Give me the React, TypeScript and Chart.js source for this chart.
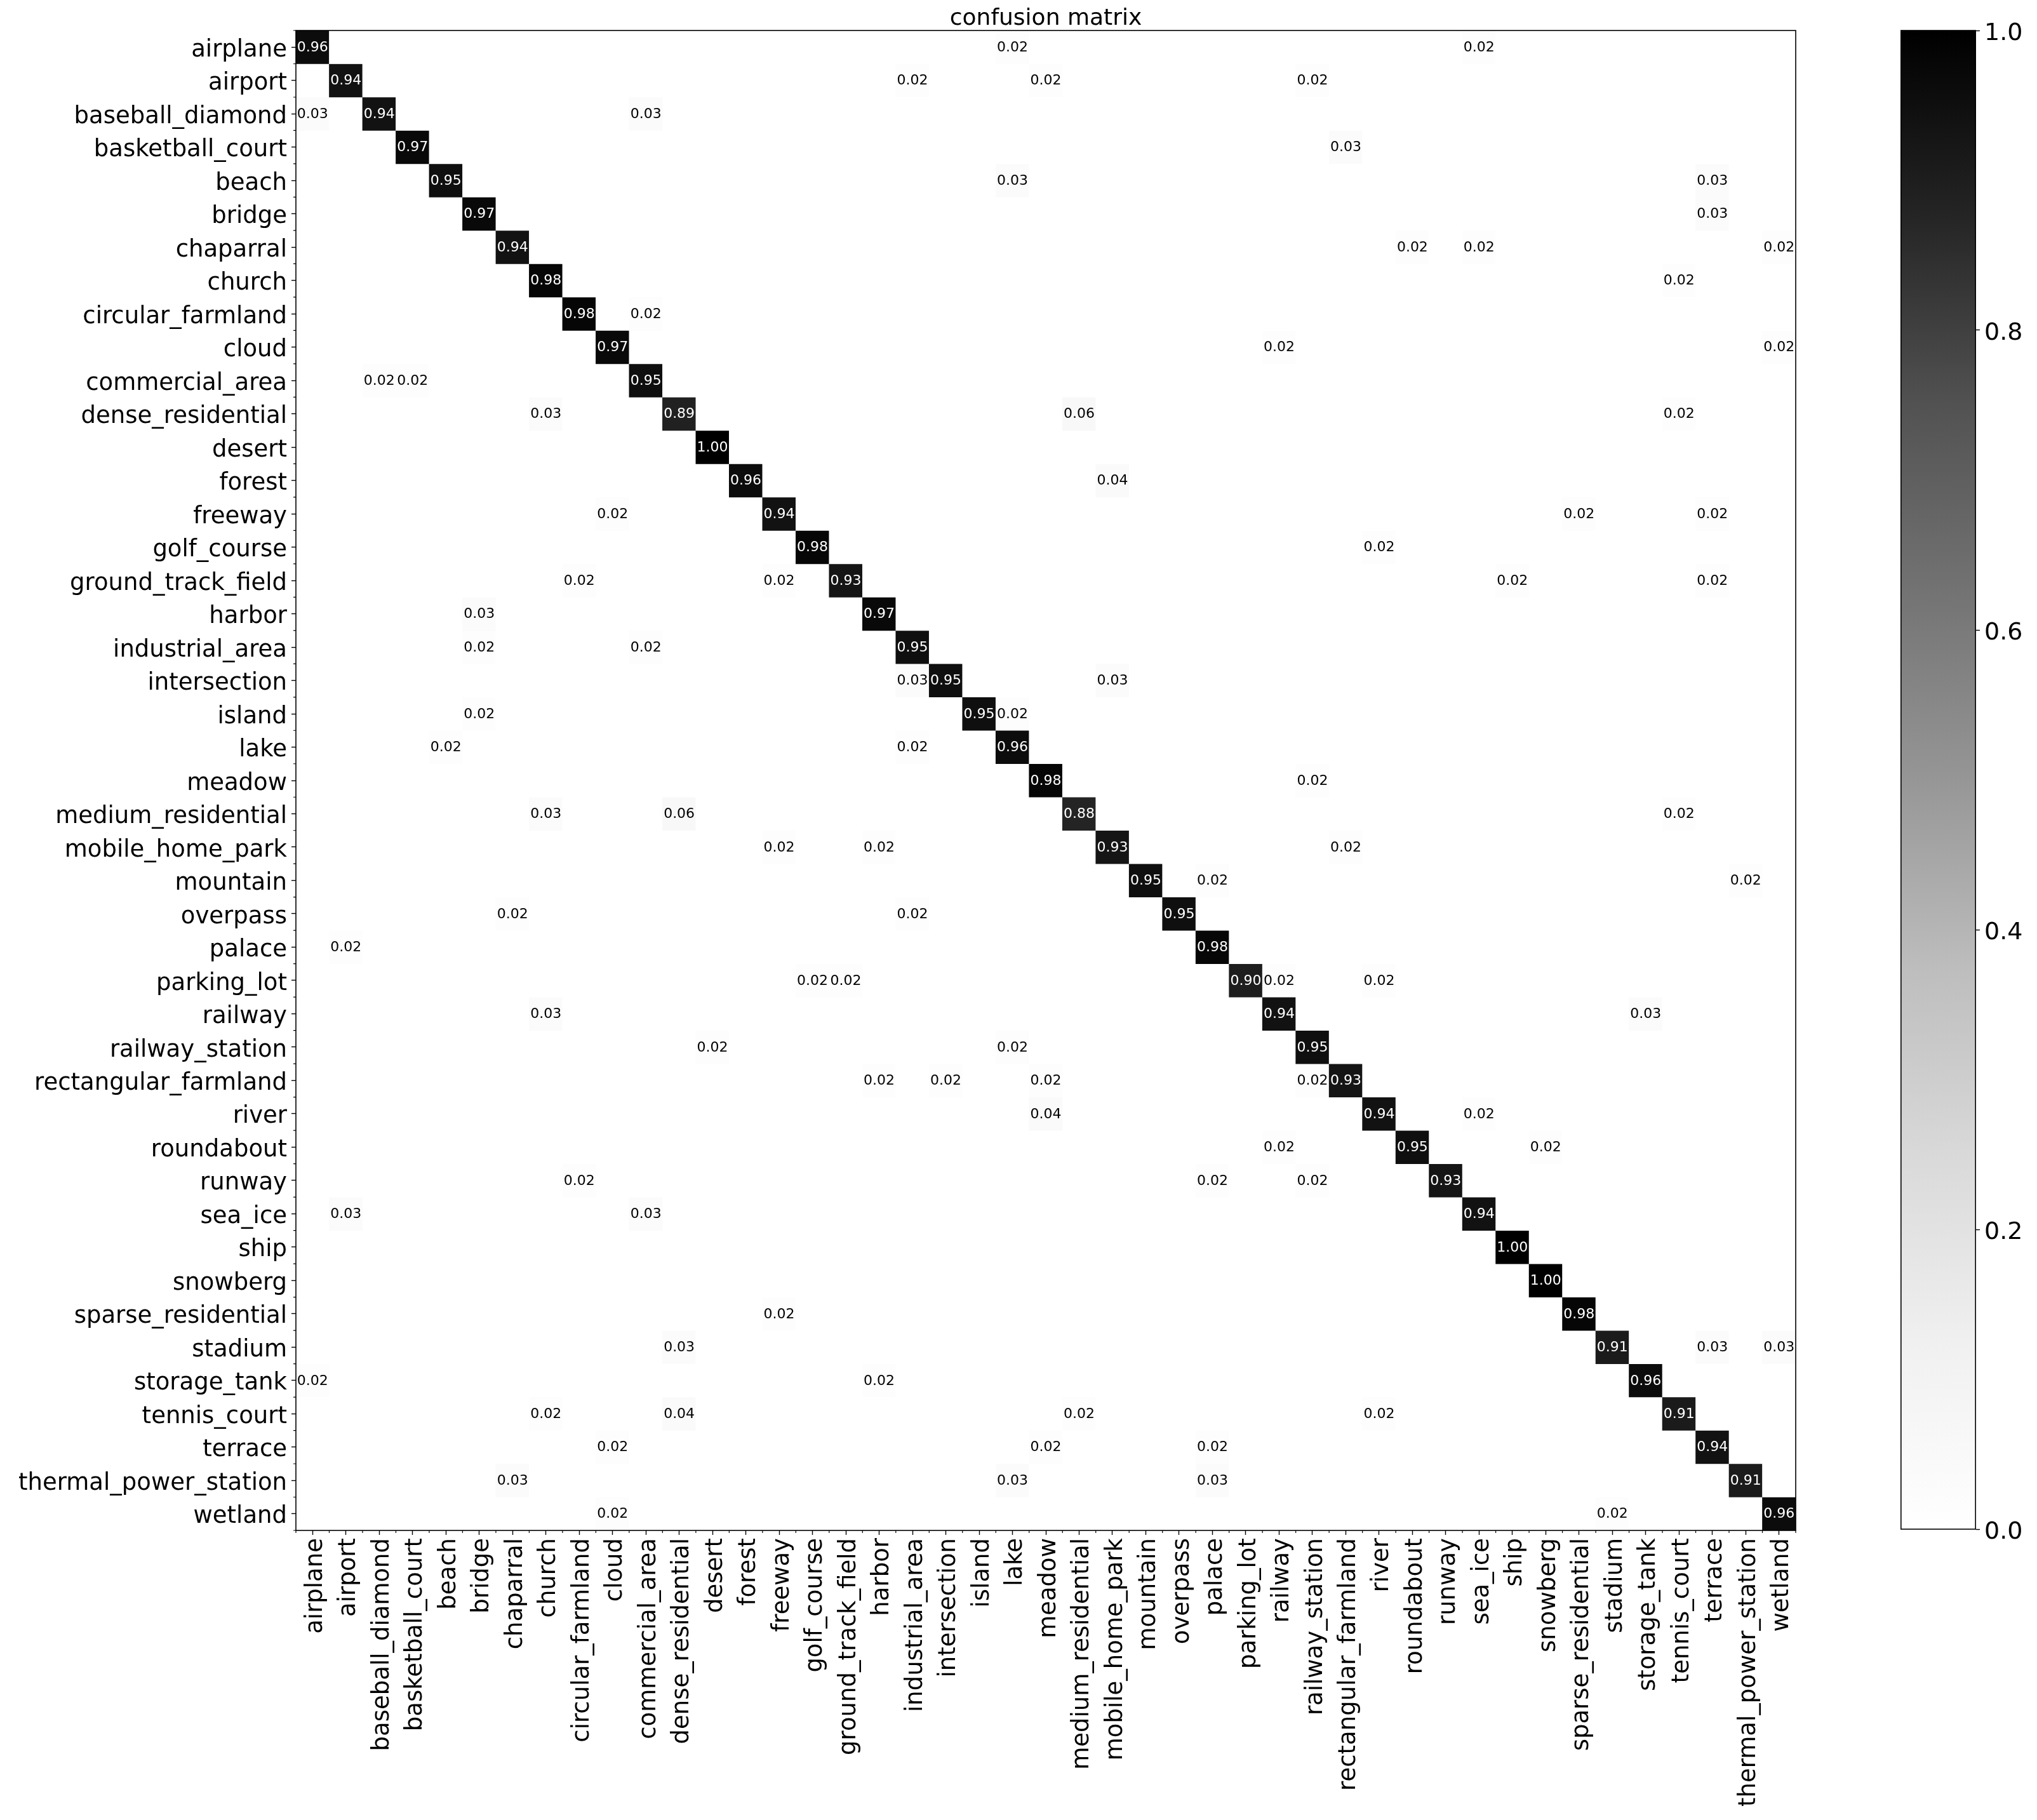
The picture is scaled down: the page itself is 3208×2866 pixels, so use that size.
import React, { useEffect, useRef } from "react";
import { Chart, registerables } from "chart.js";

Chart.register(...registerables);

// ---------------- data ----------------
const categories = [
  "airplane", "airport", "baseball_diamond", "basketball_court", "beach", "bridge",
  "chaparral", "church", "circular_farmland", "cloud", "commercial_area",
  "dense_residential", "desert", "forest", "freeway", "golf_course",
  "ground_track_field", "harbor", "industrial_area", "intersection", "island",
  "lake", "meadow", "medium_residential", "mobile_home_park", "mountain",
  "overpass", "palace", "parking_lot", "railway", "railway_station",
  "rectangular_farmland", "river", "roundabout", "runway", "sea_ice", "ship",
  "snowberg", "sparse_residential", "stadium", "storage_tank", "tennis_court",
  "terrace", "thermal_power_station", "wetland",
];

const diagonal = [
  0.96, 0.94, 0.94, 0.97, 0.95, 0.97, 0.94, 0.98, 0.98, 0.97,
  0.95, 0.89, 1.0, 0.96, 0.94, 0.98, 0.93, 0.97, 0.95, 0.95,
  0.95, 0.96, 0.98, 0.88, 0.93, 0.95, 0.95, 0.98, 0.9, 0.94,
  0.95, 0.93, 0.94, 0.95, 0.93, 0.94, 1.0, 1.0, 0.98, 0.91,
  0.96, 0.91, 0.94, 0.91, 0.96,
];

// [row (true class), column (predicted class), value]
const offDiagonal: [number, number, number][] = [
  [0, 21, 0.02], [0, 35, 0.02],
  [1, 18, 0.02], [1, 22, 0.02], [1, 30, 0.02],
  [2, 0, 0.03], [2, 10, 0.03],
  [3, 31, 0.03],
  [4, 21, 0.03], [4, 42, 0.03],
  [5, 42, 0.03],
  [6, 33, 0.02], [6, 35, 0.02], [6, 44, 0.02],
  [7, 41, 0.02],
  [8, 10, 0.02],
  [9, 29, 0.02], [9, 44, 0.02],
  [10, 2, 0.02], [10, 3, 0.02],
  [11, 7, 0.03], [11, 23, 0.06], [11, 41, 0.02],
  [13, 24, 0.04],
  [14, 9, 0.02], [14, 38, 0.02], [14, 42, 0.02],
  [15, 32, 0.02],
  [16, 8, 0.02], [16, 14, 0.02], [16, 36, 0.02], [16, 42, 0.02],
  [17, 5, 0.03],
  [18, 5, 0.02], [18, 10, 0.02],
  [19, 18, 0.03], [19, 24, 0.03],
  [20, 5, 0.02], [20, 21, 0.02],
  [21, 4, 0.02], [21, 18, 0.02],
  [22, 30, 0.02],
  [23, 7, 0.03], [23, 11, 0.06], [23, 41, 0.02],
  [24, 14, 0.02], [24, 17, 0.02], [24, 31, 0.02],
  [25, 27, 0.02], [25, 43, 0.02],
  [26, 6, 0.02], [26, 18, 0.02],
  [27, 1, 0.02],
  [28, 15, 0.02], [28, 16, 0.02], [28, 29, 0.02], [28, 32, 0.02],
  [29, 7, 0.03], [29, 40, 0.03],
  [30, 12, 0.02], [30, 21, 0.02],
  [31, 17, 0.02], [31, 19, 0.02], [31, 22, 0.02], [31, 30, 0.02],
  [32, 22, 0.04], [32, 35, 0.02],
  [33, 29, 0.02], [33, 37, 0.02],
  [34, 8, 0.02], [34, 27, 0.02], [34, 30, 0.02],
  [35, 1, 0.03], [35, 10, 0.03],
  [38, 14, 0.02],
  [39, 11, 0.03], [39, 42, 0.03], [39, 44, 0.03],
  [40, 0, 0.02], [40, 17, 0.02],
  [41, 7, 0.02], [41, 11, 0.04], [41, 23, 0.02], [41, 32, 0.02],
  [42, 9, 0.02], [42, 22, 0.02], [42, 27, 0.02],
  [43, 6, 0.03], [43, 21, 0.03], [43, 27, 0.03],
  [44, 9, 0.02], [44, 39, 0.02],
];

const colorbarTicks = [0, 0.2, 0.4, 0.6, 0.8, 1.0];
const titleText = "confusion matrix";

// ---------------- styling ----------------
const FONT = "'DejaVu Sans', 'Noto Sans', sans-serif";
// matplotlib "Greys" colormap stops (position, grey level)
const greysStops: [number, number][] = [
  [0, 255], [0.125, 240], [0.25, 217], [0.375, 189], [0.5, 150],
  [0.625, 115], [0.75, 82], [0.875, 37], [1, 0],
];

function greys(v: number): string {
  const t = Math.max(0, Math.min(1, v));
  for (let i = 1; i < greysStops.length; i++) {
    const [p1, g1] = greysStops[i];
    const [p0, g0] = greysStops[i - 1];
    if (t <= p1) {
      const g = Math.round(g0 + ((t - p0) / (p1 - p0)) * (g1 - g0));
      return `rgb(${g},${g},${g})`;
    }
  }
  return "rgb(0,0,0)";
}

function buildMatrix(): number[][] {
  const n = categories.length;
  const m: number[][] = [];
  for (let r = 0; r < n; r++) {
    m.push(new Array(n).fill(0));
    m[r][r] = diagonal[r];
  }
  offDiagonal.forEach(([r, c, v]) => {
    m[r][c] = v;
  });
  return m;
}

export default function App() {
  const mainRef = useRef<HTMLCanvasElement | null>(null);
  const cbRef = useRef<HTMLCanvasElement | null>(null);

  useEffect(() => {
    const matrix = buildMatrix();
    const n = categories.length;

    const datasets = matrix.map((row, r) => ({
      label: categories[r],
      data: row.map(() => [r - 0.5, r + 0.5]),
      backgroundColor: row.map((v) => greys(v)),
      borderWidth: 0,
      barPercentage: 1,
      categoryPercentage: 1,
      grouped: false,
    }));

    const decor = {
      id: "matrixDecor",
      afterDatasetsDraw(chart: any) {
        const { ctx, scales } = chart;
        const xs = scales.x;
        const ys = scales.y;
        ctx.save();
        ctx.font = `22px ${FONT}`;
        ctx.textAlign = "center";
        ctx.textBaseline = "middle";
        for (let r = 0; r < n; r++) {
          for (let c = 0; c < n; c++) {
            const v = matrix[r][c];
            if (v <= 0) continue;
            ctx.fillStyle = v > 0.5 ? "#ffffff" : "#000000";
            ctx.fillText(v.toFixed(2), xs.getPixelForValue(c), ys.getPixelForValue(r) + 1);
          }
        }
        ctx.restore();
      },
      afterDraw(chart: any) {
        const { ctx, chartArea, scales } = chart;
        const xs = scales.x;
        const ys = scales.y;
        ctx.save();
        // minor ticks at cell boundaries
        ctx.strokeStyle = "#000";
        ctx.lineWidth = 1.2;
        const half = (xs.getPixelForValue(1) - xs.getPixelForValue(0)) / 2;
        ctx.beginPath();
        for (let i = 0; i <= n; i++) {
          const yp = ys.getPixelForValue(i - 0.5);
          ctx.moveTo(chartArea.left, yp);
          ctx.lineTo(chartArea.left - 4, yp);
          const xp = xs.getPixelForValue(Math.min(i, n - 1)) + (i === n ? half : -half);
          ctx.moveTo(xp, chartArea.bottom);
          ctx.lineTo(xp, chartArea.bottom + 4);
        }
        ctx.stroke();
        // frame
        ctx.lineWidth = 1.6;
        ctx.strokeRect(chartArea.left, chartArea.top, chartArea.right - chartArea.left, chartArea.bottom - chartArea.top);
        // title
        ctx.fillStyle = "#000";
        ctx.font = `36px ${FONT}`;
        ctx.textAlign = "center";
        ctx.textBaseline = "alphabetic";
        ctx.fillText(titleText, (chartArea.left + chartArea.right) / 2, chartArea.top - 9);
        ctx.restore();
      },
    };

    const main = new Chart(mainRef.current as HTMLCanvasElement, {
      type: "bar",
      data: { labels: categories, datasets: datasets as any },
      options: {
        animation: false,
        responsive: false,
        devicePixelRatio: 1,
        layout: { padding: { left: 0, top: 48, right: 380, bottom: 0 } },
        plugins: { legend: { display: false }, tooltip: { enabled: false }, title: { display: false } },
        scales: {
          x: {
            type: "category",
            offset: true,
            grid: { display: true, drawOnChartArea: false, offset: false, tickLength: 7, tickColor: "#000", tickWidth: 1.4 },
            border: { display: false },
            ticks: {
              autoSkip: false,
              maxRotation: 90,
              minRotation: 90,
              padding: 5,
              labelOffset: 5,
              color: "#000",
              font: { family: FONT, size: 37 },
            },
            afterFit(scale: any) {
              scale.height = 456;
            },
          },
          y: {
            type: "linear",
            reverse: true,
            min: -0.5,
            max: n - 0.5,
            bounds: "data",
            grid: { display: true, drawOnChartArea: false, tickLength: 7, tickColor: "#000", tickWidth: 1.4 },
            border: { display: false },
            afterBuildTicks(scale: any) {
              scale.ticks = categories.map((_, i) => ({ value: i }));
            },
            ticks: {
              autoSkip: false,
              padding: 7,
              labelOffset: 5,
              color: "#000",
              font: { family: FONT, size: 37 },
              callback: (v: any) => categories[Math.round(Number(v))] ?? "",
            },
            afterFit(scale: any) {
              scale.width = 466;
            },
          },
        },
      } as any,
      plugins: [decor],
    });

    const cbFrame = {
      id: "cbFrame",
      afterDraw(chart: any) {
        const { ctx, chartArea } = chart;
        ctx.save();
        ctx.strokeStyle = "#000";
        ctx.lineWidth = 1.6;
        ctx.strokeRect(chartArea.left + 0.8, chartArea.top, chartArea.right - chartArea.left - 1.6, chartArea.bottom - chartArea.top);
        ctx.restore();
      },
    };

    const cb = new Chart(cbRef.current as HTMLCanvasElement, {
      type: "bar",
      data: {
        labels: [""],
        datasets: [
          {
            data: [[0, 1]] as any,
            borderWidth: 0,
            barPercentage: 1,
            categoryPercentage: 1,
            backgroundColor: (context: any) => {
              const chart = context.chart;
              const a = chart.chartArea;
              if (!a) return "#888";
              const g = chart.ctx.createLinearGradient(0, a.bottom, 0, a.top);
              greysStops.forEach(([p, v]) => g.addColorStop(p, `rgb(${v},${v},${v})`));
              return g;
            },
          },
        ],
      },
      options: {
        animation: false,
        responsive: false,
        devicePixelRatio: 1,
        layout: { padding: { left: 0, top: 48, right: 0, bottom: 458 } },
        plugins: { legend: { display: false }, tooltip: { enabled: false } },
        scales: {
          x: { display: false, offset: true },
          y: {
            type: "linear",
            position: "right",
            min: 0,
            max: 1,
            bounds: "data",
            grid: { display: true, drawOnChartArea: false, tickLength: 6, tickColor: "#000", tickWidth: 1.4 },
            border: { display: false },
            afterBuildTicks(scale: any) {
              scale.ticks = colorbarTicks.map((v) => ({ value: v }));
            },
            ticks: {
              padding: 7,
              labelOffset: 5,
              color: "#000",
              font: { family: FONT, size: 38 },
              callback: (v: any) => Number(v).toFixed(1),
            },
            afterFit(scale: any) {
              scale.width = 96;
            },
          },
        },
      } as any,
      plugins: [cbFrame],
    });

    return () => {
      main.destroy();
      cb.destroy();
    };
  }, []);

  return (
    <div style={{ position: "absolute", left: 0, top: 0, width: 3208, height: 2866, background: "#fff" }}>
      <canvas ref={mainRef} width={3208} height={2866} style={{ position: "absolute", left: 0, top: 0 }} />
      <canvas ref={cbRef} width={215} height={2866} style={{ position: "absolute", left: 2993, top: 0 }} />
    </div>
  );
}
